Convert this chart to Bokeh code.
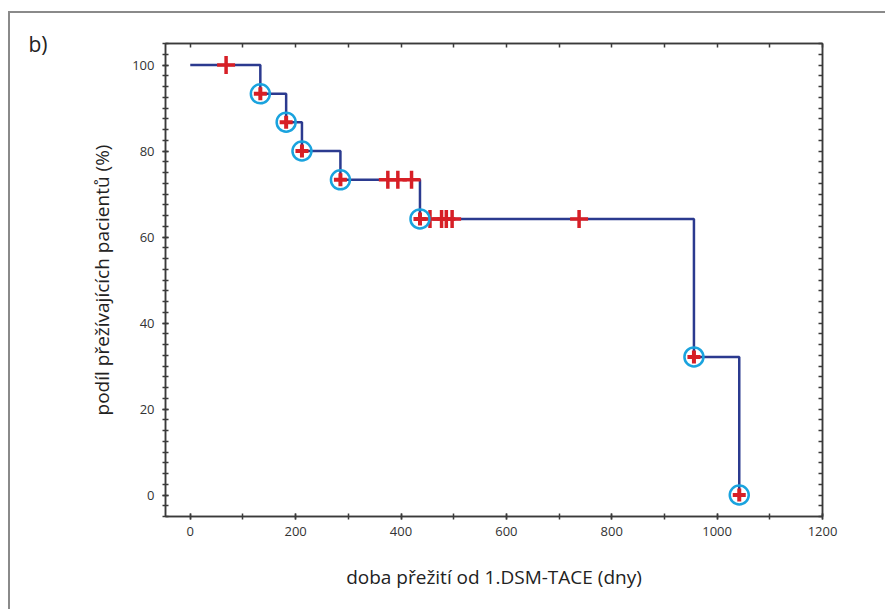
from bokeh.plotting import figure
from bokeh.models import (Range1d, LinearAxis, FixedTicker, CustomJSTickFormatter)
from bokeh.embed import file_html
from bokeh.resources import INLINE

# Kaplan-Meier step data (days, % surviving)
event_days = [0, 133, 182, 212, 285, 436, 956, 1042]
survival = [100, 93.3, 86.7, 80.0, 73.3, 64.2, 32.1, 0]

# censored observations
censor_days = [68, 375, 394, 420, 455, 477, 486, 497, 738]
censor_surv = [100, 73.3, 73.3, 73.3, 64.2, 64.2, 64.2, 64.2, 64.2]

x_ticks = [0, 200, 400, 600, 800, 1000, 1200]
x_minor = [0, 100, 200, 300, 400, 500, 600, 700, 800, 900, 1000, 1100, 1200]
y_ticks = [0, 20, 40, 60, 80, 100]
y_minor = [i * 2.5 for i in range(-2, 43)]

FONT = "Open Sans"
AX = "#3a3a3a"

p = figure(width=885, height=609, output_backend="svg", toolbar_location=None,
           x_range=Range1d(-47, 1200), y_range=Range1d(-5, 105),
           min_border_left=165, min_border_right=63, min_border_top=43,
           min_border_bottom=93)
p.grid.visible = False
p.outline_line_color = AX
p.outline_line_width = 1.5
p.border_fill_color = None
p.background_fill_color = "white"
p.styles = {
    "background": "linear-gradient(#8a8a8a, #8a8a8a) 9px 11px / 100% 2px no-repeat, "
                  "linear-gradient(#8a8a8a, #8a8a8a) 8px 11px / 2px 100% no-repeat, white"
}

xa = p.xaxis[0]
xa.ticker = FixedTicker(ticks=x_ticks, minor_ticks=x_minor)
ya = p.yaxis[0]
ya.ticker = FixedTicker(ticks=y_ticks, minor_ticks=y_minor)
for ax in (xa, ya):
    ax.axis_line_color = AX
    ax.axis_line_width = 1.5
    ax.major_tick_line_color = AX
    ax.minor_tick_line_color = AX
    ax.major_tick_line_width = 1.5
    ax.minor_tick_line_width = 1.5
    ax.major_tick_in = 3
    ax.major_tick_out = 3
    ax.minor_tick_in = 3
    ax.minor_tick_out = 3
    ax.major_label_text_font = FONT
    ax.major_label_text_font_size = "13px"
    ax.major_label_text_color = "#333333"
    ax.axis_label_text_font = FONT
    ax.axis_label_text_font_size = "19px"
    ax.axis_label_text_font_style = "normal"
    ax.axis_label_text_color = "#222222"

xa.axis_label = "doba přežití od 1.DSM-TACE (dny)"
xa.major_label_standoff = 7
xa.axis_label_standoff = 25
ya.axis_label = "podíl přežívajících pacientů (%)"
ya.major_label_standoff = 8
ya.axis_label_standoff = 14

blank = CustomJSTickFormatter(code="return ''")
top = LinearAxis(ticker=FixedTicker(ticks=x_minor), formatter=blank,
                 axis_line_color=AX, axis_line_width=1.5,
                 major_tick_line_color=AX, major_tick_line_width=1.5,
                 major_tick_in=4, major_tick_out=0, minor_tick_line_color=None,
                 major_label_standoff=0)
right = LinearAxis(ticker=FixedTicker(ticks=y_minor), formatter=blank,
                   axis_line_color=AX, axis_line_width=1.5,
                   major_tick_line_color=AX, major_tick_line_width=1.5,
                   major_tick_in=4, major_tick_out=0, minor_tick_line_color=None,
                   major_label_standoff=0)
p.add_layout(top, "above")
p.add_layout(right, "right")

# panel label "b)" carried by an invisible extra left axis
panel = LinearAxis(ticker=FixedTicker(ticks=[]), axis_line_color=None,
                   major_tick_line_color=None, minor_tick_line_color=None,
                   axis_label="b)", axis_label_orientation="horizontal",
                   axis_label_align="end", axis_label_standoff=39,
                   axis_label_text_font=FONT, axis_label_text_font_size="21px",
                   axis_label_text_font_style="normal",
                   axis_label_text_color="#222222")
p.add_layout(panel, "left")

# survival curve
p.step(event_days, survival, mode="after", line_color="#2b3a8f", line_width=2.5)

# censor crosses
p.scatter(censor_days, censor_surv, marker="cross", size=18,
          line_color="#d71f26", line_width=3.5)

# event markers: cyan ring with red cross
p.scatter(event_days[1:], survival[1:], marker="circle", size=19,
          fill_color="white", fill_alpha=0.0, line_color="#1aa3de", line_width=2.5)
p.scatter(event_days[1:], survival[1:], marker="cross", size=13,
          line_color="#d71f26", line_width=4)

open("out.html", "w").write(file_html(p, INLINE))
